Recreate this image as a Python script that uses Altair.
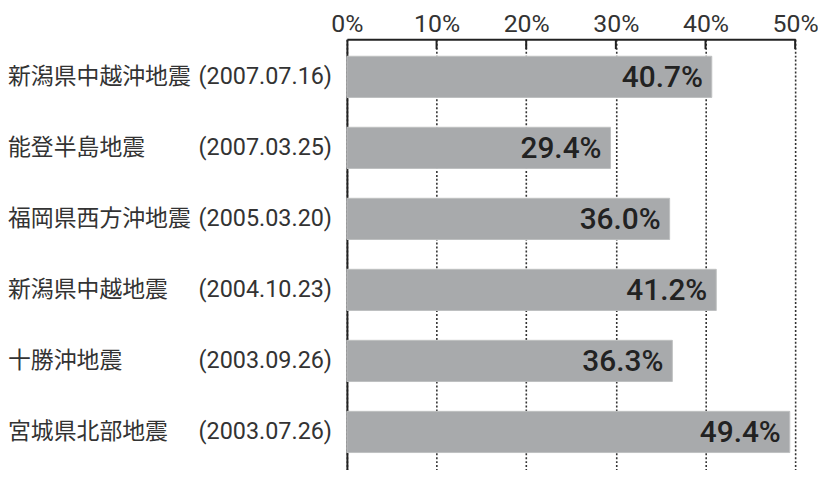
import altair as alt
import pandas as pd

names = ["新潟県中越沖地震", "能登半島地震", "福岡県西方沖地震", "新潟県中越地震", "十勝沖地震", "宮城県北部地震"]
dates = ["(2007.07.16)", "(2007.03.25)", "(2005.03.20)", "(2004.10.23)", "(2003.09.26)", "(2003.07.26)"]
values = [40.7, 29.4, 36.0, 41.2, 36.3, 49.4]
ticks = [10, 20, 30, 40, 50]

df = pd.DataFrame({
    "key": [f"{n}{d}" for n, d in zip(names, dates)],
    "name": names,
    "date": dates,
    "value": values,
    "label": [f"{v:.1f}%" for v in values],
})
tick_df = pd.DataFrame({"t": ticks})

order = list(df["key"])
xscale = alt.Scale(domain=[0, 50], nice=False, zero=True)
yscale = alt.Scale(domain=order, paddingInner=0.42, paddingOuter=0.24)

x_axis = alt.Axis(
    orient="top", values=[0, 10, 20, 30, 40, 50], labelExpr="datum.value + '%'",
    title=None, ticks=False, domain=True, domainColor="#222", domainWidth=2,
    grid=True, gridColor="#333", gridDash=[2, 2], gridWidth=1.6,
    labelFont="Roboto", labelFontSize=25, labelColor="#333", labelPadding=3,
    labelFlush=False,
)
y_axis = alt.Axis(labels=False, ticks=False, title=None, domain=True,
                  domainColor="#222", domainWidth=2, grid=False)

base = alt.Chart(df)

bars = base.mark_bar(color="#a8aaac", stroke="#bdbfc1", strokeWidth=1).encode(
    x=alt.X("value:Q", scale=xscale, axis=x_axis),
    y=alt.Y("key:N", scale=yscale, sort=order, axis=y_axis),
)

vals = base.mark_text(align="right", baseline="middle", dx=-9, dy=1,
                      font="Roboto", fontSize=30, fontWeight=500, color="#222").encode(
    x=alt.X("value:Q", scale=xscale),
    y=alt.Y("key:N", scale=yscale, sort=order),
    text="label:N",
)

name_txt = base.mark_text(align="left", baseline="middle", font="Noto Sans CJK JP",
                          fontSize=23, color="#333").encode(
    x=alt.value(-341),
    y=alt.Y("key:N", scale=yscale, sort=order),
    text="name:N",
)

date_txt = base.mark_text(align="right", baseline="middle", font="Roboto",
                          fontSize=23.5, color="#333").encode(
    x=alt.value(-15),
    y=alt.Y("key:N", scale=yscale, sort=order),
    text="date:N",
)

tick_marks = alt.Chart(tick_df).mark_rule(color="#222", strokeWidth=2).encode(
    x=alt.X("t:Q", scale=xscale),
    y=alt.value(0),
    y2=alt.value(10),
)

chart = alt.layer(bars, tick_marks, vals, name_txt, date_txt).properties(
    width=451, height=433,
    autosize=alt.AutoSizeParams(type="none"),
    padding={"left": 341, "top": 30, "right": 23, "bottom": 0},
).configure_view(stroke=None)

chart.save("out.html", embed_options={"renderer": "svg", "actions": False})
